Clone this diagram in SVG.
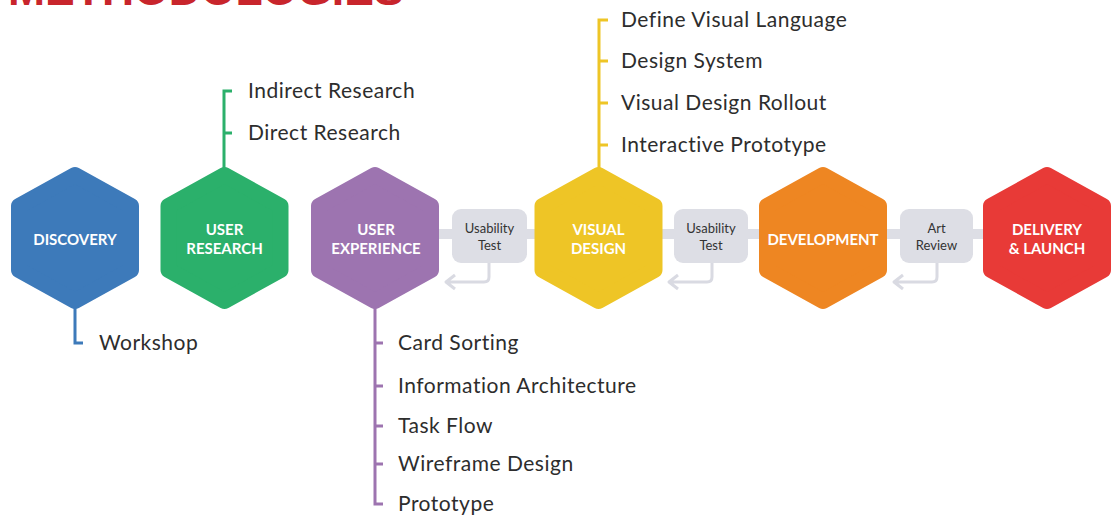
<svg xmlns="http://www.w3.org/2000/svg" width="1112" height="515" viewBox="0 0 1112 515">
<style>
.hx{stroke-width:16;stroke-linejoin:round}
.lbl{font-family:Lato,"Liberation Sans",sans-serif;font-weight:700;font-size:15px;fill:#fff;text-anchor:middle}
.item{font-family:Lato,"Liberation Sans",sans-serif;font-size:21px;letter-spacing:0.5px;fill:#2d2d2d}
.box{fill:#dddee5}
.btx{font-family:Lato,"Liberation Sans",sans-serif;font-size:13px;fill:#333;text-anchor:middle}
.br{fill:none;stroke-width:3;stroke-linecap:butt;stroke-linejoin:miter}
.ret{fill:none;stroke:#d9dae2;stroke-width:3;stroke-linejoin:round}
</style>
<defs>
<polygon id="hex" points="0,-63 56,-32 56,32 0,63 -56,32 -56,-32"/>
</defs>
<text x="8" y="5" font-family="Liberation Sans,Arial,sans-serif" font-weight="700" font-size="44.5" fill="#c8252c">METHODOLOGIES</text>
<g id="connectors">
<rect x="430" y="229" width="565" height="10" fill="#dddee5"/>
<path class="ret" d="M489,263 V277 Q489,282 484,282 H446 M455,275 L446,282 L455,289"/>
<path class="ret" d="M712,263 V277 Q712,282 707,282 H669 M678,275 L669,282 L678,289"/>
<path class="ret" d="M937,263 V277 Q937,282 932,282 H894 M903,275 L894,282 L903,289"/>
<path class="br" stroke="#3d7aba" d="M75,300 V343 H83"/>
<path class="br" stroke="#2bb06b" d="M224,175 V91 H232 M224,133 H232"/>
<path class="br" stroke="#eec526" d="M599,175 V20 H608 M599,61 H608 M599,103 H608 M599,145 H608"/>
<path class="br" stroke="#9d74b0" d="M375,300 V504 H383 M375,343 H383 M375,386 H383 M375,426 H383 M375,464 H383"/>
</g>
<g id="discovery">
<use href="#hex" x="75" y="238" class="hx" fill="#3d7aba" stroke="#3d7aba"/>
<text class="lbl" x="75" y="245">DISCOVERY</text>
<text class="item" x="99" y="350">Workshop</text>
</g>
<g id="user-research">
<use href="#hex" x="224.5" y="238" class="hx" fill="#2bb06b" stroke="#2bb06b"/>
<text class="lbl" x="224.5" y="235">USER</text>
<text class="lbl" x="224.5" y="254">RESEARCH</text>
<text class="item" x="248" y="98">Indirect Research</text>
<text class="item" x="248" y="140">Direct Research</text>
</g>
<g id="user-experience">
<use href="#hex" x="375" y="238" class="hx" fill="#9d74b0" stroke="#9d74b0"/>
<text class="lbl" x="376" y="235">USER</text>
<text class="lbl" x="376" y="254">EXPERIENCE</text>
<text class="item" x="398" y="350">Card Sorting</text>
<text class="item" x="398" y="393">Information Architecture</text>
<text class="item" x="398" y="433">Task Flow</text>
<text class="item" x="398" y="471">Wireframe Design</text>
<text class="item" x="398" y="511">Prototype</text>
</g>
<g id="usability-test-1">
<rect class="box" x="452" y="209" width="75" height="54" rx="9"/>
<text class="btx" x="489.5" y="233">Usability</text>
<text class="btx" x="489.5" y="250">Test</text>
</g>
<g id="visual-design">
<use href="#hex" x="598.5" y="238" class="hx" fill="#eec526" stroke="#eec526"/>
<text class="lbl" x="598.5" y="235">VISUAL</text>
<text class="lbl" x="598.5" y="254">DESIGN</text>
<text class="item" x="621" y="27">Define Visual Language</text>
<text class="item" x="621" y="68">Design System</text>
<text class="item" x="621" y="110">Visual Design Rollout</text>
<text class="item" x="621" y="152">Interactive Prototype</text>
</g>
<g id="usability-test-2">
<rect class="box" x="674" y="209" width="74" height="54" rx="9"/>
<text class="btx" x="711" y="233">Usability</text>
<text class="btx" x="711" y="250">Test</text>
</g>
<g id="development">
<use href="#hex" x="823" y="238" class="hx" fill="#ee8622" stroke="#ee8622"/>
<text class="lbl" x="823" y="245">DEVELOPMENT</text>
</g>
<g id="art-review">
<rect class="box" x="900" y="209" width="73" height="54" rx="9"/>
<text class="btx" x="936.5" y="233">Art</text>
<text class="btx" x="936.5" y="250">Review</text>
</g>
<g id="delivery-launch">
<use href="#hex" x="1047" y="238" class="hx" fill="#e83a37" stroke="#e83a37"/>
<text class="lbl" x="1047" y="235">DELIVERY</text>
<text class="lbl" x="1047" y="254">&amp; LAUNCH</text>
</g>
</svg>
